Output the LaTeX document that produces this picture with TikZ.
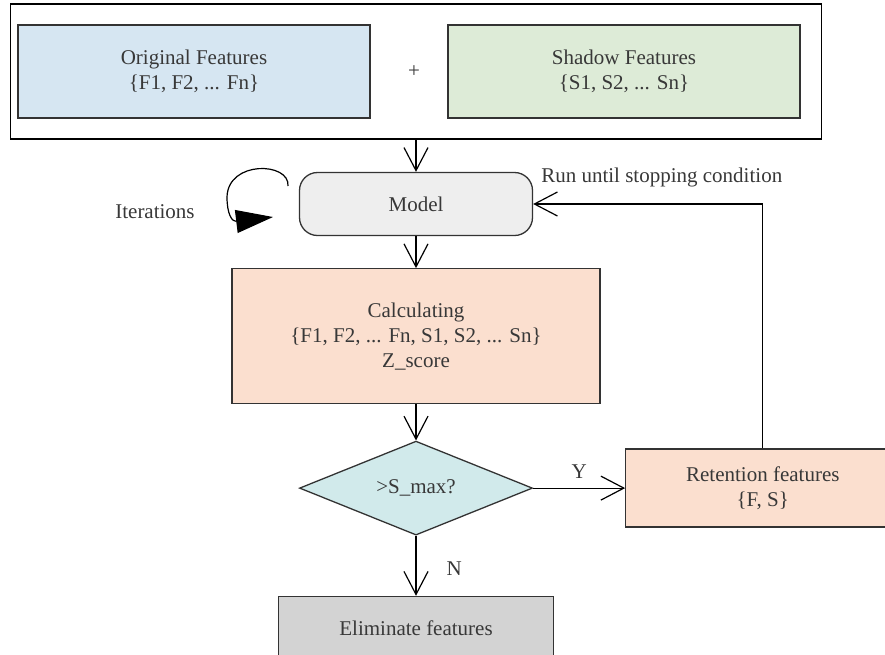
\documentclass[tikz,border=0pt]{standalone}
\usepackage{fontspec}
\setmainfont{Liberation Serif}
\usepackage{xcolor}
\usepackage{tikz}
\usetikzlibrary{shapes.geometric, arrows.meta, positioning}

\definecolor{txtgray}{HTML}{383838}
\definecolor{linegray}{HTML}{333333}
\definecolor{featblue}{HTML}{D6E6F2}
\definecolor{featgreen}{HTML}{DDEBD7}
\definecolor{modelgray}{HTML}{EEEEEE}
\definecolor{peach}{HTML}{FBDFCF}
\definecolor{diacyan}{HTML}{D1EAEB}
\definecolor{elimgray}{HTML}{D3D3D3}

\begin{document}
\begin{tikzpicture}[
        x=1pt, y=-1pt,
        every node/.style={font=\fontsize{21}{25}\selectfont, text=txtgray},
        block/.style={rectangle, draw=linegray, line width=1.3pt, align=center, inner sep=0pt},
        feat/.style={block, line width=2pt, minimum width=352pt, minimum height=93pt},
        term/.style={block, rounded corners=18pt, fill=modelgray,
                     minimum width=233pt, minimum height=63pt},
        decision/.style={diamond, draw=linegray, line width=1.3pt, fill=diacyan, shape aspect=2.5,
                         minimum width=233pt, minimum height=94pt, inner sep=0pt},
        lbl/.style={inner sep=0pt},
        arrow/.style={-{Straight Barb[length=23pt, width=24pt]}, line width=1.2pt},
    ]
        \useasboundingbox (0,0) rectangle (885,654);

        \node[draw=black, line width=1.5pt, minimum width=811pt, minimum height=135pt, inner sep=0pt] (inputs) at (416,71.5) {};
        \node[feat, fill=featblue] (orig) at (194,71.5) {Original Features\\\{F1, F2, ... Fn\}};
        \node[feat, fill=featgreen] (shadow) at (624,71.5) {Shadow Features\\\{S1, S2, ... Sn\}};
        \node[lbl] (plus) at (414,72) {+};

        \node[term] (model) at (416,204) {Model};
        \node[block, fill=peach, minimum width=368pt, minimum height=135pt, below=32pt of model] (calc)
            {Calculating\\\{F1, F2, ... Fn, S1, S2, ... Sn\}\\Z\_score};
        \node[decision, below=36pt of calc] (check) {>S\_max?};
        \node[block, fill=peach, minimum width=274pt, minimum height=78pt, right=92pt of check] (retain)
            {Retention features\\\{F, S\}};
        \node[block, fill=elimgray, minimum width=275pt, minimum height=64pt, below=60pt of check] (elim)
            {Eliminate features};

        \node[lbl] (iterlbl) at (155,212) {Iterations};
        \coordinate (loopstart) at (288,186);
        \coordinate (looptip) at (273,217);

        \draw[arrow] (inputs) -- (model);
        \draw[arrow] (model) -- (calc);
        \draw[arrow] (calc) -- (check);
        \draw[arrow] (check) -- node[lbl, above=9pt] {Y} (retain);
        \draw[arrow] (check) -- node[lbl, right=30pt, pos=0.55] {N} (elim);
        \draw[arrow] (retain) |- node[lbl, pos=0.72, above=16pt] {Run until stopping condition} (model);
        \draw[line width=1.2pt, -{Triangle[length=37pt, width=23pt]}] (loopstart)
            .. controls (290,162) and (228,160) .. (227,197)
            .. controls (227,214) and (232,222) .. (looptip);
    \end{tikzpicture}
\end{document}
